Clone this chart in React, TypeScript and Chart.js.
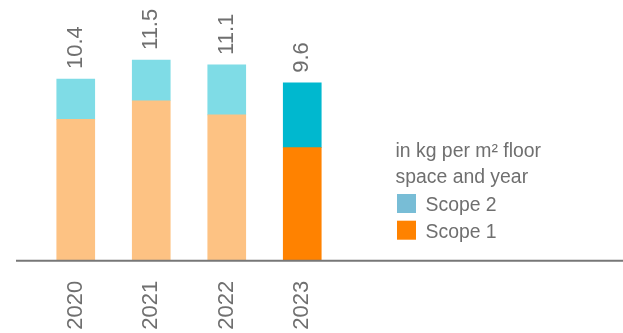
import { useEffect, useRef } from 'react';
import { Chart, registerables } from 'chart.js';

Chart.register(...registerables);

const FONT = '"Liberation Sans", Arial, Helvetica, sans-serif';
const TEXT = '#6f6f6f';

const years = ['2020', '2021', '2022', '2023'];
const scope1 = [8.08, 9.14, 8.33, 6.46];
const scope2 = [2.3, 2.33, 2.86, 3.71];
const totalLabels = ['10.4', '11.5', '11.1', '9.6'];

const scope1Colors = ['#FDC283', '#FDC283', '#FDC283', '#FF8200'];
const scope2Colors = ['#7FDCE6', '#7FDCE6', '#7FDCE6', '#00B8CF'];

const legendTitle = ['in kg per m\u00B2 floor', 'space and year'];
const legendItems = ['Scope 2', 'Scope 1'];
const legendColors = ['#78BDD6', '#FF8200'];

const overlayPlugin = {
  id: 'overlay',
  afterDatasetsDraw(chart: any) {
    const ctx = chart.ctx;
    const y = chart.scales.y;
    const x = chart.scales.x;
    // baseline
    const y0 = y.getPixelForValue(0);
    ctx.save();
    ctx.strokeStyle = '#777777';
    ctx.lineWidth = 2;
    ctx.beginPath();
    ctx.moveTo(16, y0);
    ctx.lineTo(chart.width, y0);
    ctx.stroke();

    // total labels
    ctx.fillStyle = TEXT;
    ctx.font = `22px ${FONT}`;
    ctx.textAlign = 'left';
    ctx.textBaseline = 'middle';
    years.forEach((_, i) => {
      const total = scope1[i] + scope2[i];
      const top = y.getPixelForValue(total);
      const cx = x.getPixelForValue(i);
      ctx.save();
      ctx.translate(cx, top - 10);
      ctx.rotate(-Math.PI / 2);
      ctx.fillText(totalLabels[i], 0, 0);
      ctx.restore();
    });

    // legend
    ctx.font = `19.4px ${FONT}`;
    ctx.textAlign = 'left';
    ctx.textBaseline = 'alphabetic';
    ctx.fillStyle = TEXT;
    legendTitle.forEach((t, i) => {
      ctx.fillText(t, 395.5, 156.7 + i * 26.7);
    });
    legendItems.forEach((t, i) => {
      const by = 194 + i * 26.7;
      ctx.fillStyle = legendColors[i];
      ctx.fillRect(397, by, 19, 19);
      ctx.fillStyle = TEXT;
      ctx.fillText(t, 425.5, by + 17);
    });
    ctx.restore();
  },
};

export default function App() {
  const ref = useRef<HTMLCanvasElement | null>(null);
  useEffect(() => {
    if (!ref.current) return;
    const chart = new Chart(ref.current, {
      type: 'bar',
      data: {
        labels: years,
        datasets: [
          { label: 'Scope 1', data: scope1, backgroundColor: scope1Colors, barThickness: 38 },
          { label: 'Scope 2', data: scope2, backgroundColor: scope2Colors, barThickness: 38 },
        ],
      },
      options: {
        animation: false,
        responsive: false,
        maintainAspectRatio: false,
        layout: { padding: { left: 38, right: 283, top: 15.7, bottom: 0 } },
        plugins: { legend: { display: false }, tooltip: { enabled: false } },
        scales: {
          x: {
            stacked: true,
            grid: { display: false, drawTicks: false },
            border: { display: false },
            ticks: {
              color: TEXT,
              font: { size: 22, family: FONT },
              minRotation: 90,
              maxRotation: 90,
              autoSkip: false,
              padding: 20,
            },
            afterFit: (s: any) => {
              s.height = 72.3;
            },
          },
          y: {
            stacked: true,
            display: false,
            min: 0,
            max: 14,
          },
        },
      },
      plugins: [overlayPlugin],
    });
    return () => chart.destroy();
  }, []);
  return (
    <div style={{ position: 'fixed', left: 0, top: 0, width: 623, height: 333, background: '#fff' }}>
      <canvas ref={ref} width={623} height={333} style={{ width: 623, height: 333, display: 'block' }} />
    </div>
  );
}
